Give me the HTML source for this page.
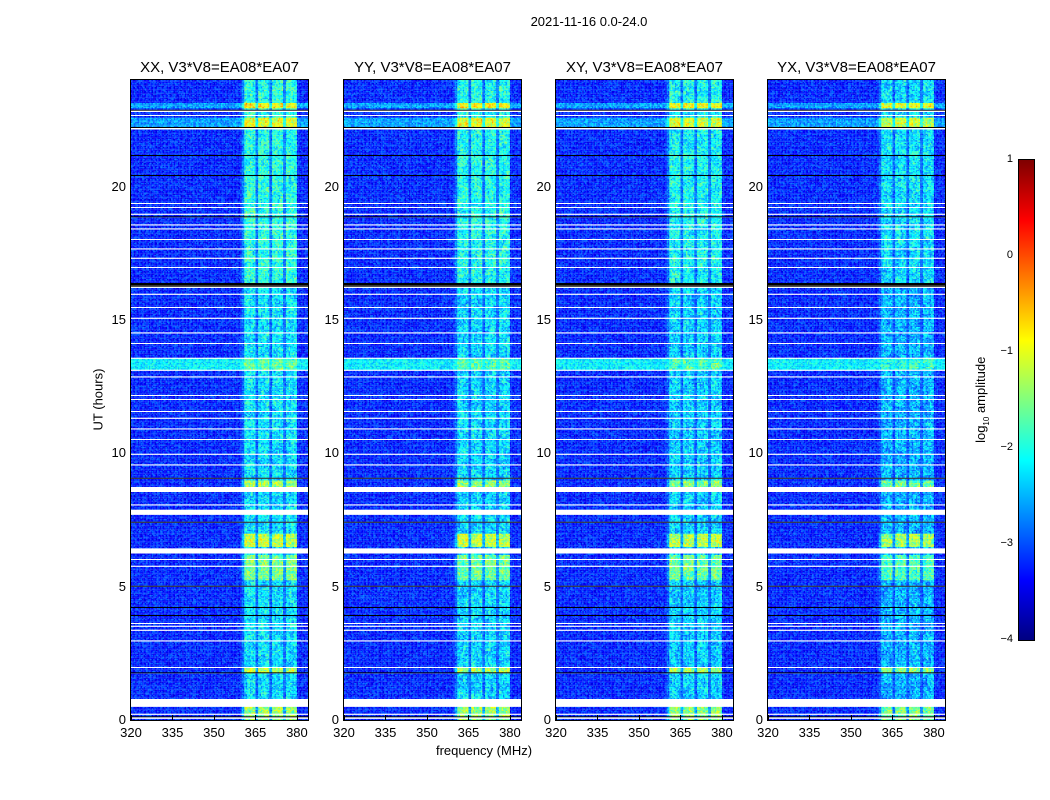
<!DOCTYPE html>
<html><head><meta charset="utf-8">
<style>
body{margin:0;background:#fff;width:1050px;height:800px;position:relative;overflow:hidden;font-family:"Liberation Sans",sans-serif;color:#000}
.t{position:absolute;white-space:nowrap}
canvas{position:absolute;image-rendering:pixelated}
.frame{position:absolute;border:1px solid #000;box-sizing:border-box}
.tick{position:absolute;background:#000}
</style></head><body>
<div class="t" style="left:489px;top:14px;width:200px;text-align:center;font-size:13px">2021-11-16 0.0-24.0</div>
<div class="t" style="left:384px;top:743px;width:200px;text-align:center;font-size:13px">frequency (MHz)</div>
<div class="t" style="left:48px;top:392px;width:100px;text-align:center;font-size:13px;transform:rotate(-90deg)">UT (hours)</div>
<div id="root"></div>
<canvas id="cbar" width="15" height="480" style="left:1019px;top:160px;width:15px;height:480px"></canvas>
<div class="frame" style="left:1018px;top:159px;width:17px;height:482px"></div>
<div class="t" style="left:922px;top:391px;width:120px;text-align:center;font-size:13px;transform:rotate(-90deg)">log<sub style="font-size:8px">10</sub> amplitude</div>
<script>
// ---- data ----
const panelNames = ["XX, V3*V8=EA08*EA07","YY, V3*V8=EA08*EA07","XY, V3*V8=EA08*EA07","YX, V3*V8=EA08*EA07"];
const panelBandOffset = [0, -0.05, -0.1, -0.25];
const freqTicks = [320,335,350,365,380];
const timeTicks = [0,5,10,15,20];
const cbarTicks = [1,0,-1,-2,-3,-4];
const channelFreqs = Array.from({length:64},(_,i)=>320+i);
const channelGain = [0,0,0,0,0,0,0,0,0,0, 0,0,0,0,0,0,0,0,0,0, 0,0,0,0,0,0,0,0,0,0, 0,0,0,0,0,0,0,0,0,0,
  0.35,1,1,1,1,0.35,1,1,1,1, 0.35,1,1,1,1,0.35,1,1,1,1, 0,0,0,0];
const whiteFlags = [[0.05,0.1],[0.2,0.26],[0.5,0.8],[1.96,2.02],[2.96,3.02],[3.36,3.42],[3.5,3.55],[3.62,3.67],[5.75,5.8],[5.98,6.04],[6.25,6.45],[7.68,7.9],[8.03,8.08],[8.55,8.75],[9.55,9.6],[9.95,10.0],[10.5,10.55],[10.9,10.95],[11.3,11.35],[11.55,11.6],[12.0,12.05],[12.15,12.2],[12.85,12.9],[13.1,13.16],[13.55,13.6],[14.1,14.15],[14.5,14.55],[15.05,15.1],[15.45,15.5],[15.95,16.0],[16.18,16.24],[16.95,17.0],[17.3,17.35],[17.65,17.7],[18.0,18.05],[18.4,18.45],[18.55,18.6],[18.95,19.0],[19.2,19.25],[19.35,19.4],[22.15,22.2],[22.65,22.7],[22.8,22.85]];
const blackFlags = [[0.12,0.15],[1.74,1.78],[3.92,3.96],[4.22,4.26],[5.0,5.04],[5.23,5.27],[7.03,7.07],[7.4,7.44],[8.23,8.27],[9.05,9.09],[16.25,16.4],[18.84,18.88],[19.58,19.62],[20.41,20.45],[21.16,21.2],[22.21,22.25],[22.85,22.9]];
// [startHour, endHour, background offset, band level]
const rowLevels = [[0,0.5,0,-1.35],[1.8,1.96,0,-1.25],[5.27,6.2,0,-1.55],[6.5,7.0,0,-1.15],[8.75,9.0,0,-1.35],[13.16,13.55,1.0,-1.7],[22.25,22.6,0.6,-0.95],[22.95,23.15,0.6,-0.85],[16.4,24,0,-2.0],[0,24,0,-2.25]];
const bgLevel = -3.2;
// ---- rendering ----
const X0=[131,344,556,768], Y0=80, W=177, H=640, FMIN=320, FMAX=384, TMAX=24;
const xScale=f=>(f-FMIN)/(FMAX-FMIN)*W, yScale=h=>H-h/TMAX*H;
function jet(v){const t=Math.max(0,Math.min(1,(v+4)/5));const c=x=>Math.round(255*Math.max(0,Math.min(1,1.5-Math.abs(x))));return [c(4*t-3),c(4*t-2),c(4*t-1)];}
function hash(a,b,c){let h=(a*374761393+b*668265263+c*2147483647)|0;h=(h^(h>>>13))*1274126177;h=h^(h>>>16);return ((h>>>0)%1000)/1000-0.5;}
function inRanges(arr,h){return arr.some(r=>h>=r[0]&&h<r[1]);}
function level(h){for(const r of rowLevels){if(h>=r[0]&&h<r[1])return r;}return rowLevels[rowLevels.length-1];}
const root=document.getElementById('root');
const NR=480;
panelNames.forEach((name,p)=>{
  const x0=X0[p];
  const tt=document.createElement('div');tt.className='t';
  
  
  tt.style.cssText=`left:${x0-40}px;top:59px;width:${W+80}px;text-align:center;font-size:15px`;tt.textContent=name;root.appendChild(tt);
  const cv=document.createElement('canvas');cv.width=W;cv.height=H;
  
  
  cv.style.cssText=`left:${x0}px;top:${Y0}px;width:${W}px;height:${H}px`;root.appendChild(cv);
  const ctx=cv.getContext('2d');
  for(let r=0;r<NR;r++){
    const h0=r*TMAX/NR, hm=h0+TMAX/NR/2;
    const y1=yScale(h0+TMAX/NR), y2=yScale(h0);
    if(inRanges(whiteFlags,hm)){ctx.fillStyle='#fff';ctx.fillRect(0,y1,W,y2-y1);continue;}
    if(inRanges(blackFlags,hm)){ctx.fillStyle='#000';ctx.fillRect(0,y1,W,y2-y1);continue;}
    const L=level(hm);
    for(let c=0;c<channelFreqs.length;c++){
      for(let s=0;s<2;s++){
        const f=channelFreqs[c]+s*0.5;
        const bg=bgLevel+L[2]+hash(r,c*2+s,p)*0.7;
        const band=L[3]+panelBandOffset[p]+hash(r,c*2+s,p+7)*0.9+hash(r>>2,c,p+3)*0.4;
        const g=channelGain[c];
        const v=bg+g*(band-bg);
        const col=jet(v);ctx.fillStyle=`rgb(${col[0]},${col[1]},${col[2]})`;
        const xa=xScale(f),xb=xScale(f+0.5);
        ctx.fillRect(xa,y1,xb-xa+0.3,y2-y1+0.3);
      }
    }
  }
  const fr=document.createElement('div');fr.className='frame';
  
  
  fr.style.cssText=`left:${x0-1}px;top:${Y0-1}px;width:${W+2}px;height:${H+2}px`;root.appendChild(fr);
  freqTicks.forEach(f=>{
    const x=x0+xScale(f);
    const l=document.createElement('div');l.className='t';
    
    
    l.style.cssText=`left:${x-20}px;top:725px;width:40px;text-align:center;font-size:13px`;l.textContent=f;root.appendChild(l);
    const tk=document.createElement('div');tk.className='tick';
    
    
    tk.style.cssText=`left:${x}px;top:${Y0+H-5}px;width:1px;height:5px`;root.appendChild(tk);
  });
  timeTicks.forEach(h=>{
    const y=Y0+yScale(h);
    const l=document.createElement('div');l.className='t';
    
    
    l.style.cssText=`left:${x0-45}px;top:${y-8}px;width:40px;text-align:right;font-size:13px`;l.textContent=h;root.appendChild(l);
  });
});
// colorbar
const cb=document.getElementById('cbar').getContext('2d');
for(let i=0;i<480;i++){const v=1-i/480*5;const c=jet(v);cb.fillStyle=`rgb(${c[0]},${c[1]},${c[2]})`;cb.fillRect(0,i,15,1);}
cbarTicks.forEach(v=>{
  const y=160+(1-v)/5*480;
  const l=document.createElement('div');l.className='t';
  
  
  l.style.cssText=`left:975px;top:${y-7}px;width:38px;text-align:right;font-size:11px`;l.textContent=(v<0?'\u2212'+(-v):v);root.appendChild(l);
  const tk=document.createElement('div');tk.className='tick';
  
  
  tk.style.cssText=`left:1030px;top:${y}px;width:4px;height:1px`;root.appendChild(tk);
});
</script>
</body></html>
